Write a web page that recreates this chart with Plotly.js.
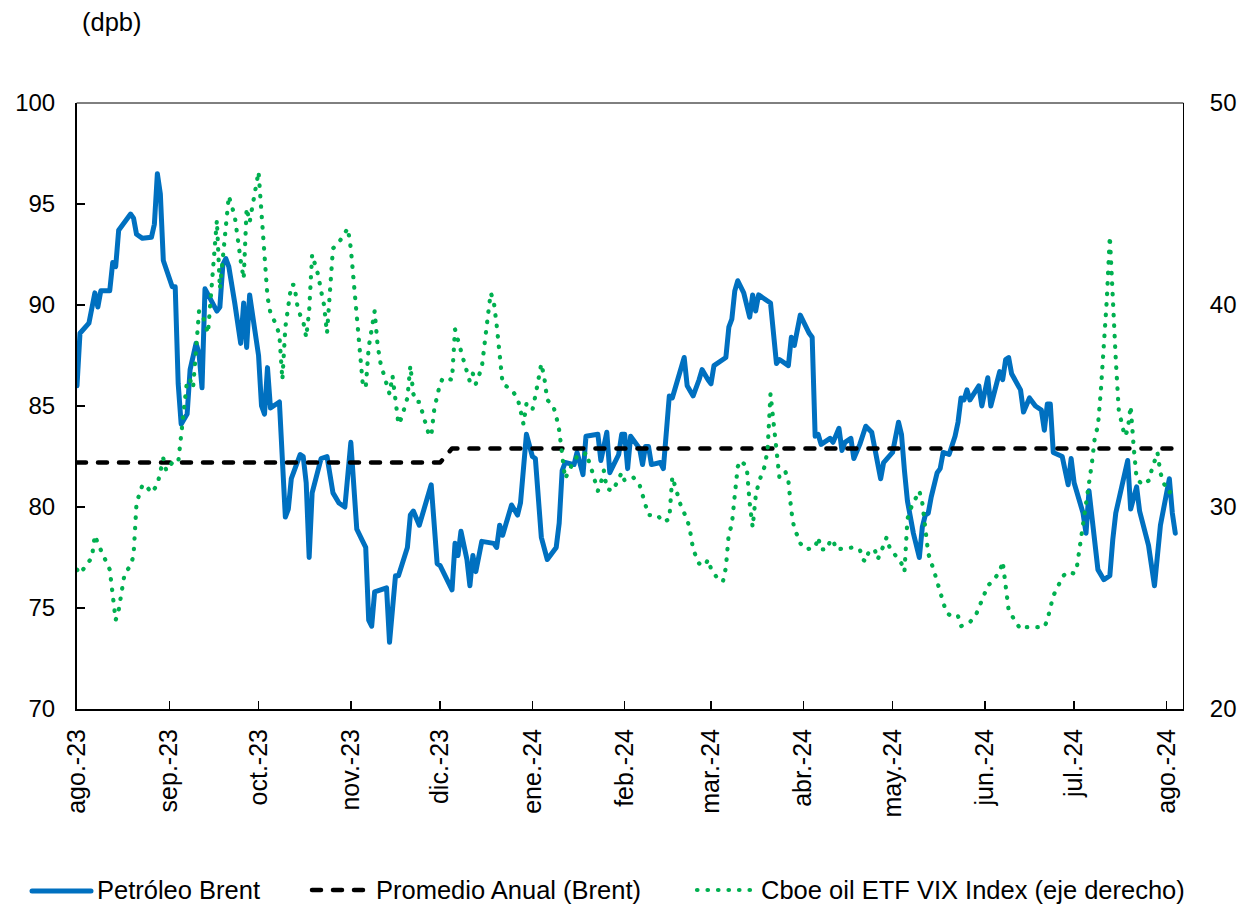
<!DOCTYPE html>
<html>
<head>
<meta charset="utf-8">
<script src="https://cdn.plot.ly/plotly-3.0.1.min.js"></script>
<style>html,body{margin:0;padding:0;background:#fff;}#chart{width:1243px;height:909px;}</style>
</head>
<body>
<div id="chart"></div>
<script>
// ---------- DATA ----------
const monthTicks = ['2023-08-01','2023-09-01','2023-10-01','2023-11-01','2023-12-01','2024-01-01','2024-02-01','2024-03-01','2024-04-01','2024-05-01','2024-06-01','2024-07-01','2024-08-01'];
const monthLabels = ['ago.-23','sep.-23','oct.-23','nov.-23','dic.-23','ene.-24','feb.-24','mar.-24','abr.-24','may.-24','jun.-24','jul.-24','ago.-24'];

const brentDates = [
'2023-08-01','2023-08-02','2023-08-05','2023-08-07','2023-08-08','2023-08-09','2023-08-12','2023-08-13','2023-08-14','2023-08-15','2023-08-19','2023-08-20','2023-08-21','2023-08-23','2023-08-26','2023-08-27','2023-08-28','2023-08-29','2023-08-30',
'2023-09-02','2023-09-03','2023-09-04','2023-09-05','2023-09-07','2023-09-08','2023-09-10','2023-09-11','2023-09-12','2023-09-13','2023-09-15','2023-09-17','2023-09-18','2023-09-19','2023-09-20','2023-09-21','2023-09-23','2023-09-25','2023-09-26','2023-09-27','2023-09-28',
'2023-10-01','2023-10-02','2023-10-03','2023-10-04','2023-10-05','2023-10-08','2023-10-09','2023-10-10','2023-10-11','2023-10-12','2023-10-15','2023-10-16','2023-10-17','2023-10-18','2023-10-19','2023-10-22','2023-10-24','2023-10-26','2023-10-28','2023-10-30',
'2023-11-01','2023-11-03','2023-11-05','2023-11-06','2023-11-07','2023-11-08','2023-11-09','2023-11-13','2023-11-14','2023-11-16','2023-11-17','2023-11-20','2023-11-21','2023-11-22','2023-11-24','2023-11-28','2023-11-30',
'2023-12-01','2023-12-05','2023-12-06','2023-12-07','2023-12-08','2023-12-10','2023-12-11','2023-12-12','2023-12-13','2023-12-15','2023-12-19','2023-12-20','2023-12-21','2023-12-22','2023-12-25','2023-12-27','2023-12-28','2023-12-30',
'2024-01-01','2024-01-02','2024-01-04','2024-01-06','2024-01-09','2024-01-10','2024-01-11','2024-01-12','2024-01-15','2024-01-16','2024-01-18','2024-01-19','2024-01-23','2024-01-24','2024-01-26','2024-01-27','2024-01-30','2024-01-31',
'2024-02-01','2024-02-02','2024-02-03','2024-02-06','2024-02-07','2024-02-08','2024-02-09','2024-02-10','2024-02-13','2024-02-14','2024-02-15','2024-02-16','2024-02-17','2024-02-19','2024-02-21','2024-02-22','2024-02-24','2024-02-26','2024-02-27','2024-02-29',
'2024-03-01','2024-03-02','2024-03-06','2024-03-07','2024-03-08','2024-03-09','2024-03-10','2024-03-12','2024-03-14','2024-03-15','2024-03-16','2024-03-17','2024-03-21','2024-03-23','2024-03-24','2024-03-27','2024-03-28','2024-03-29','2024-03-31',
'2024-04-03','2024-04-04','2024-04-05','2024-04-06','2024-04-07','2024-04-10','2024-04-11','2024-04-13','2024-04-14','2024-04-15','2024-04-17','2024-04-18','2024-04-20','2024-04-22','2024-04-24','2024-04-26','2024-04-27','2024-04-28',
'2024-05-01','2024-05-03','2024-05-04','2024-05-05','2024-05-06','2024-05-08','2024-05-10','2024-05-11','2024-05-12','2024-05-13','2024-05-14','2024-05-16','2024-05-17','2024-05-18','2024-05-20','2024-05-22','2024-05-23','2024-05-24','2024-05-25','2024-05-26','2024-05-27','2024-05-30','2024-05-31',
'2024-06-02','2024-06-03','2024-06-06','2024-06-07','2024-06-08','2024-06-09','2024-06-10','2024-06-13','2024-06-14','2024-06-16','2024-06-18','2024-06-20','2024-06-21','2024-06-22','2024-06-23','2024-06-24','2024-06-27','2024-06-29','2024-06-30',
'2024-07-01','2024-07-04','2024-07-05','2024-07-06','2024-07-07','2024-07-09','2024-07-11','2024-07-13','2024-07-14','2024-07-15','2024-07-17','2024-07-19','2024-07-20','2024-07-22','2024-07-23','2024-07-26','2024-07-27','2024-07-28','2024-07-30',
'2024-08-01','2024-08-02','2024-08-03','2024-08-04'
];
const brentValues = [
86.0,88.6,89.1,90.6,89.9,90.7,90.7,92.1,91.9,93.7,94.5,94.3,93.5,93.3,93.35,94.0,96.5,95.5,92.2,
90.9,90.9,86.1,84.1,84.6,86.8,88.1,87.6,85.9,90.8,90.2,89.7,89.9,92.0,92.3,91.9,90.1,88.1,90.1,87.9,90.5,
87.5,85.0,84.6,86.9,84.9,85.2,82.0,79.5,79.9,81.4,82.6,82.5,81.2,77.5,80.7,82.4,82.5,80.7,80.2,80.0,
83.2,78.9,78.3,78.0,74.4,74.1,75.8,76.0,73.3,76.6,76.6,78.0,79.6,79.8,79.1,81.1,77.2,
77.1,75.9,78.2,77.6,78.8,77.4,76.1,77.6,76.8,78.3,78.2,78.0,79.1,78.6,80.1,79.6,80.2,83.6,
82.5,82.4,78.5,77.4,78.0,79.2,81.8,82.2,82.1,82.7,81.6,83.5,83.6,82.3,83.7,81.7,82.6,83.6,
83.6,81.9,83.5,82.9,82.1,83.0,83.0,82.1,82.2,81.9,84.1,85.5,85.4,86.3,87.4,86.0,85.5,86.3,86.8,86.3,
86.1,87.0,87.4,88.9,89.3,90.7,91.2,90.6,89.4,90.5,89.7,90.5,90.1,87.1,87.3,87.0,88.4,88.0,89.5,
88.6,88.4,83.5,83.6,83.1,83.4,83.2,83.9,82.8,83.2,83.4,82.4,83.1,84.0,83.7,82.0,81.4,82.2,
82.7,84.2,83.6,81.8,80.3,78.7,77.5,79.0,79.6,79.7,80.5,81.7,81.9,82.7,82.6,83.5,84.2,85.4,85.3,85.8,85.3,86.0,85.0,
86.4,85.0,86.7,86.3,87.3,87.4,86.6,85.8,84.7,85.4,85.0,84.8,83.8,85.1,85.1,82.7,82.5,81.1,82.4,
81.2,79.7,78.7,80.8,79.5,76.9,76.4,76.6,78.4,79.7,81.0,82.3,79.9,81.0,79.8,78.1,77.1,76.1,79.1,
80.5,81.4,79.7,78.7
];

const avgDates = ['2023-08-01','2023-12-01','2023-12-05','2024-08-03'];
const avgValues = [82.2,82.2,82.9,82.9];

const vixDates = [
'2023-08-01','2023-08-02','2023-08-06','2023-08-07','2023-08-08','2023-08-12','2023-08-14','2023-08-15','2023-08-17','2023-08-19','2023-08-20','2023-08-21','2023-08-23','2023-08-24','2023-08-26','2023-08-28','2023-08-30','2023-08-31',
'2023-09-02','2023-09-04','2023-09-07','2023-09-08','2023-09-09','2023-09-11','2023-09-12','2023-09-14','2023-09-17','2023-09-18','2023-09-21','2023-09-23','2023-09-25','2023-09-26','2023-09-27','2023-09-28',
'2023-10-01','2023-10-02','2023-10-03','2023-10-04','2023-10-05','2023-10-07','2023-10-08','2023-10-09','2023-10-10','2023-10-11','2023-10-12','2023-10-13','2023-10-14','2023-10-15','2023-10-16','2023-10-17','2023-10-18','2023-10-19','2023-10-20','2023-10-21','2023-10-22','2023-10-23','2023-10-24','2023-10-25','2023-10-26','2023-10-28','2023-10-30','2023-10-31',
'2023-11-01','2023-11-02','2023-11-03','2023-11-04','2023-11-05','2023-11-06','2023-11-07','2023-11-08','2023-11-09','2023-11-10','2023-11-11','2023-11-12','2023-11-13','2023-11-14','2023-11-15','2023-11-16','2023-11-17','2023-11-18','2023-11-19','2023-11-20','2023-11-21','2023-11-22','2023-11-23','2023-11-24','2023-11-25','2023-11-26','2023-11-27','2023-11-28','2023-11-29','2023-11-30',
'2023-12-01','2023-12-02','2023-12-05','2023-12-06','2023-12-07','2023-12-08','2023-12-09','2023-12-10','2023-12-11','2023-12-12','2023-12-13','2023-12-15','2023-12-16','2023-12-17','2023-12-18','2023-12-19','2023-12-20','2023-12-21','2023-12-22','2023-12-25','2023-12-27','2023-12-28','2023-12-29','2023-12-30',
'2024-01-01','2024-01-02','2024-01-03','2024-01-04','2024-01-05','2024-01-06','2024-01-08','2024-01-09','2024-01-10','2024-01-11','2024-01-12','2024-01-14','2024-01-16','2024-01-18','2024-01-19','2024-01-21','2024-01-22','2024-01-23','2024-01-24','2024-01-25','2024-01-26','2024-01-28','2024-01-29','2024-01-31',
'2024-02-01','2024-02-04','2024-02-06','2024-02-07','2024-02-08','2024-02-09','2024-02-12','2024-02-14','2024-02-16','2024-02-17','2024-02-18','2024-02-19','2024-02-20','2024-02-22','2024-02-23','2024-02-24','2024-02-26','2024-02-28','2024-02-29',
'2024-03-01','2024-03-03','2024-03-05','2024-03-06','2024-03-07','2024-03-08','2024-03-09','2024-03-10','2024-03-11','2024-03-13','2024-03-14','2024-03-15','2024-03-16','2024-03-17','2024-03-19','2024-03-20','2024-03-21','2024-03-22','2024-03-23','2024-03-24','2024-03-26','2024-03-27','2024-03-28','2024-03-29','2024-03-30','2024-03-31',
'2024-04-02','2024-04-05','2024-04-06','2024-04-07','2024-04-09','2024-04-10','2024-04-11','2024-04-12','2024-04-15','2024-04-18','2024-04-20','2024-04-21','2024-04-22','2024-04-23','2024-04-25','2024-04-26','2024-04-28','2024-04-29','2024-04-30',
'2024-05-02','2024-05-04','2024-05-05','2024-05-06','2024-05-07','2024-05-09','2024-05-10','2024-05-11','2024-05-12','2024-05-13','2024-05-15','2024-05-16','2024-05-17','2024-05-18','2024-05-19','2024-05-21','2024-05-23','2024-05-24','2024-05-27','2024-05-29','2024-05-31',
'2024-06-02','2024-06-04','2024-06-06','2024-06-07','2024-06-08','2024-06-09','2024-06-11','2024-06-13','2024-06-15','2024-06-17','2024-06-20','2024-06-21','2024-06-22','2024-06-23','2024-06-24','2024-06-26','2024-06-27','2024-06-29',
'2024-07-01','2024-07-02','2024-07-03','2024-07-04','2024-07-05','2024-07-06','2024-07-07','2024-07-08','2024-07-09','2024-07-10','2024-07-11','2024-07-12','2024-07-13','2024-07-14','2024-07-15','2024-07-16','2024-07-17','2024-07-18','2024-07-19','2024-07-20','2024-07-21','2024-07-22','2024-07-24','2024-07-26','2024-07-27','2024-07-28','2024-07-29','2024-07-30','2024-07-31',
'2024-08-02','2024-08-03'
];
const vixValues = [
26.9,26.7,27.5,28.6,28.2,26.9,24.4,24.9,26.7,27.1,27.6,30.2,31.1,31.1,30.7,31.1,32.4,31.8,
32.2,32.2,36.3,36.3,35.9,39.7,39.6,38.6,44.2,40.8,45.4,44.4,42.2,41.3,44.8,44.1,
46.6,44.3,42.0,40.4,39.6,39.0,38.5,36.3,38.9,40.0,41.0,41.0,40.0,39.5,39.2,38.4,39.7,42.5,42.0,41.5,40.7,40.0,38.6,41.0,42.8,43.1,43.6,43.8,
42.8,41.0,39.1,37.5,36.1,35.9,37.9,38.8,39.7,38.0,37.1,36.6,36.1,35.6,36.5,35.3,34.1,34.4,34.9,35.4,37.0,35.6,35.2,35.2,34.7,34.2,33.7,33.5,34.8,35.5,
36.1,36.4,36.3,38.8,38.2,37.7,37.2,36.7,36.2,36.6,36.1,36.9,38.4,39.4,40.6,40.2,39.0,37.4,36.1,35.8,35.4,34.8,34.1,35.1,
34.8,35.5,36.4,37.1,36.4,35.3,35.0,34.5,33.8,32.5,31.4,32.0,32.5,32.5,32.7,31.8,31.3,30.8,31.2,31.8,30.9,30.8,31.1,31.7,
31.3,31.45,31.1,30.6,30.1,29.6,29.6,29.25,29.4,31.5,31.0,30.5,30.0,29.4,28.8,27.9,27.2,27.1,27.4,
26.95,26.5,26.3,27.0,28.7,29.1,30.6,32.0,32.3,32.0,30.2,29.0,30.5,31.2,32.0,32.8,35.6,34.2,33.0,31.45,31.75,31.3,29.8,28.9,28.6,28.2,
27.9,28.0,28.5,27.9,27.9,28.3,28.4,27.9,27.95,28.0,27.9,27.4,27.3,27.8,27.9,27.4,28.1,28.5,28.0,
27.6,27.2,26.8,29.4,29.9,30.5,30.8,30.2,28.8,27.7,26.8,26.3,25.8,25.3,24.8,24.55,24.6,24.1,24.3,24.65,25.4,
26.1,26.4,26.8,27.3,26.0,24.9,24.4,23.95,24.05,24.05,24.1,24.05,24.4,25.1,25.6,26.2,26.55,26.8,
26.7,27.1,28.1,29.0,30.1,31.1,32.2,33.5,34.0,35.8,37.8,40.3,43.4,39.8,37.3,34.8,34.2,33.5,33.8,35.0,33.0,31.4,31.1,31.3,31.8,32.2,32.7,31.7,31.2,
30.7,30.9
];

const seriesNames = ['Petróleo Brent','Promedio Anual (Brent)','Cboe oil ETF VIX Index (eje derecho)'];
const unitLabel = '(dpb)';

// ---------- STYLE ----------
const FONT = 'Liberation Sans, Arial, sans-serif';
const BLUE = '#0070C0', GREEN = '#00B050', BLACK = '#000000';
const plotL = 77, plotR = 1183, plotT = 103, plotB = 709;
const px = x => (x - plotL) / (plotR - plotL);
const py = y => (plotB - y) / (plotB - plotT);
const DOT = '0.5px,10px';
const DASH = '9px,12px';

const traces = [
  {x: brentDates, y: brentValues, type: 'scatter', mode: 'lines', name: seriesNames[0],
   line: {color: BLUE, width: 5}, yaxis: 'y'},
  {x: avgDates, y: avgValues, type: 'scatter', mode: 'lines', name: seriesNames[1],
   line: {color: BLACK, width: 4.5, dash: DASH}, yaxis: 'y'},
  {x: vixDates, y: vixValues, type: 'scatter', mode: 'lines', name: seriesNames[2],
   line: {color: GREEN, width: 4.2, dash: DOT}, yaxis: 'y2'}
];

const legendY = 890;
const shapes = [
  {type: 'line', xref: 'paper', yref: 'paper', x0: 0, x1: 1, y0: 1, y1: 1, line: {color: BLACK, width: 1}},
  {type: 'line', xref: 'paper', yref: 'paper', x0: px(32), x1: px(91), y0: py(legendY + 1), y1: py(legendY + 1), line: {color: BLUE, width: 5}},
  {type: 'line', xref: 'paper', yref: 'paper', x0: px(312), x1: px(365), y0: py(legendY), y1: py(legendY), line: {color: BLACK, width: 4.5, dash: DASH}},
  {type: 'line', xref: 'paper', yref: 'paper', x0: px(697), x1: px(758), y0: py(legendY), y1: py(legendY), line: {color: GREEN, width: 4.2, dash: DOT}}
];
const legFont = {family: FONT, size: 25.5, color: BLACK};
const annotations = [
  {xref: 'paper', yref: 'paper', x: px(95), y: py(legendY), xanchor: 'left', yanchor: 'middle', text: seriesNames[0], showarrow: false, font: legFont},
  {xref: 'paper', yref: 'paper', x: px(374), y: py(legendY), xanchor: 'left', yanchor: 'middle', text: seriesNames[1], showarrow: false, font: legFont},
  {xref: 'paper', yref: 'paper', x: px(759), y: py(legendY), xanchor: 'left', yanchor: 'middle', text: seriesNames[2], showarrow: false, font: legFont},
  {xref: 'paper', yref: 'paper', x: px(80), y: py(22), xanchor: 'left', yanchor: 'middle', text: unitLabel, showarrow: false, font: legFont}
];

const layout = {
  width: 1243, height: 909,
  margin: {l: plotL, r: 1243 - plotR, t: plotT, b: 909 - plotB, pad: 0},
  paper_bgcolor: '#ffffff', plot_bgcolor: '#ffffff',
  showlegend: false,
  font: {family: FONT, color: BLACK},
  xaxis: {
    type: 'date', range: ['2023-08-01', '2024-08-06 14:00'],
    tickmode: 'array', tickvals: monthTicks, ticktext: monthLabels, tickangle: -90,
    ticks: 'inside', ticklen: 8, tickwidth: 1.5, tickcolor: BLACK,
    showline: true, linewidth: 2, linecolor: BLACK, showgrid: false, zeroline: false,
    tickfont: {family: FONT, size: 25, color: BLACK}, ticklabelstandoff: 8
  },
  yaxis: {
    range: [70, 100], tickmode: 'array', tickvals: [70, 75, 80, 85, 90, 95, 100],
    ticks: 'inside', ticklen: 8, tickwidth: 1.5, tickcolor: BLACK,
    showline: true, linewidth: 2, linecolor: BLACK, showgrid: false, zeroline: false,
    tickfont: {family: FONT, size: 24, color: BLACK}, ticklabelstandoff: 15
  },
  yaxis2: {
    overlaying: 'y', side: 'right', range: [20, 50], tickmode: 'array', tickvals: [20, 30, 40, 50],
    ticks: 'outside', ticklen: 21, tickcolor: 'rgba(0,0,0,0)', showline: true, linewidth: 1, linecolor: BLACK,
    showgrid: false, zeroline: false,
    tickfont: {family: FONT, size: 24, color: BLACK}
  },
  shapes: shapes,
  annotations: annotations
};

Plotly.newPlot('chart', traces, layout, {displayModeBar: false, staticPlot: true}).then(function () {
  // rounded line caps so dots and dashes look like the reference
  document.querySelectorAll('#chart .scatterlayer path.js-line').forEach(function (p) {
    p.style.strokeLinecap = 'round';
    p.style.strokeLinejoin = 'round';
  });
  document.querySelectorAll('#chart .layer-above .shapelayer path').forEach(function (p) {
    p.style.strokeLinecap = 'round';
  });
});
</script>
</body>
</html>
